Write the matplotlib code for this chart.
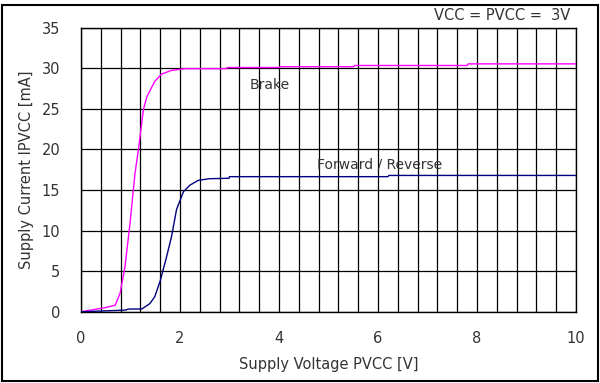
import matplotlib
matplotlib.use('Agg')
import matplotlib.pyplot as plt
from matplotlib.patches import Rectangle

# Brake curve (magenta)
brake_v = [0.0, 0.48, 0.69, 0.79, 0.89, 0.99, 1.09, 1.16, 1.26, 1.33, 1.49, 1.63, 1.83, 2.1,
           2.94, 2.95, 4.0, 4.02, 5.5, 5.53, 7.8, 7.82, 10.0]
brake_i = [0.0, 0.5, 0.8, 2.3, 5.6, 10.9, 17.0, 20.0, 24.9, 26.5, 28.4, 29.3, 29.75, 29.96,
           29.96, 30.1, 30.1, 30.2, 30.2, 30.35, 30.35, 30.55, 30.55]

# Forward / Reverse curve (navy)
fwd_v = [0.0, 0.89, 0.96, 1.23, 1.39, 1.49, 1.6, 1.73, 1.83, 1.93, 2.07, 2.2, 2.37, 2.6,
         2.99, 3.0, 6.2, 6.22, 10.0]
fwd_i = [0.0, 0.2, 0.33, 0.35, 1.0, 1.85, 3.8, 6.8, 9.3, 12.6, 14.8, 15.6, 16.2, 16.4,
         16.45, 16.65, 16.65, 16.8, 16.8]

x_ticks = [0, 2, 4, 6, 8, 10]
y_ticks = [0, 5, 10, 15, 20, 25, 30, 35]

plt.rcParams['font.family'] = ['DejaVu Sans']

fig = plt.figure(figsize=(6, 3.83), dpi=100)
ax = fig.add_axes([0.135, 0.186, 0.825, 0.7415])

# vertical grid every 0.4 V
for k in range(26):
    ax.axvline(k * 0.4, color='black', lw=0.9, zorder=1)
for y in y_ticks:
    ax.axhline(y, color='black', lw=0.9, zorder=1)

ax.plot(brake_v, brake_i, color='#FF00FF', lw=1.0, zorder=3)
ax.plot(fwd_v, fwd_i, color='#000080', lw=1.0, zorder=3)

ax.set_xlim(0, 10)
ax.set_ylim(0, 35)
ax.set_xticks(x_ticks)
ax.set_yticks(y_ticks)
ax.tick_params(length=0, labelsize=10.5, colors='#333333')
ax.tick_params(axis='y', pad=15)
ax.tick_params(axis='x', pad=14)
for s in ax.spines.values():
    s.set_color('black')
    s.set_linewidth(1.0)

ax.set_xlabel('Supply Voltage PVCC [V]', fontsize=10.5, color='#333333', labelpad=8)
ax.set_ylabel('Supply Current IPVCC [mA]', fontsize=10.5, color='#333333', labelpad=5)

ax.text(3.82, 27.9, 'Brake', fontsize=10, ha='center', va='center', color='#333333', zorder=4)
ax.text(6.04, 18.1, 'Forward / Reverse', fontsize=10, ha='center', va='center', color='#333333', zorder=4)

fig.text(570 / 600, 1 - 16 / 383, 'VCC = PVCC =  3V', fontsize=10.5, ha='right', va='center', color='#333333')

fig.patches.append(Rectangle((2 / 600, 2 / 383), 595.5 / 600, 376.5 / 383, transform=fig.transFigure,
                             fill=False, edgecolor='black', lw=1.5))

fig.savefig('out.png', dpi=100)
